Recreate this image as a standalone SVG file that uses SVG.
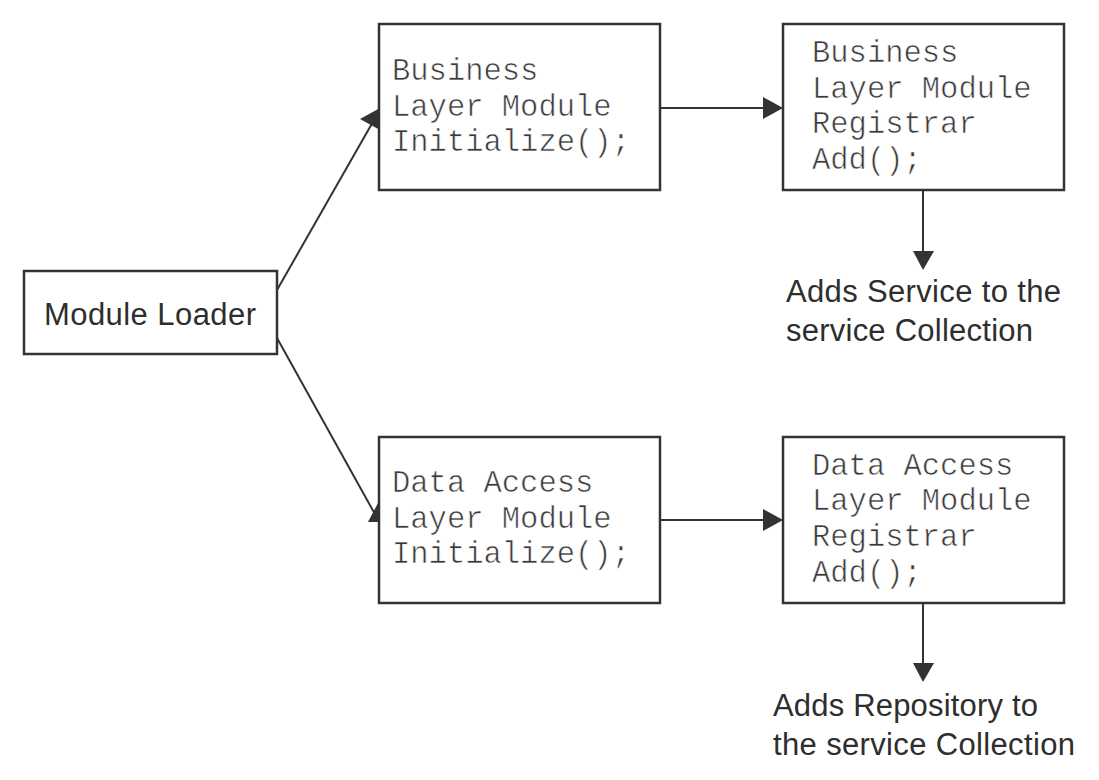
<svg xmlns="http://www.w3.org/2000/svg" width="1099" height="780" viewBox="0 0 1099 780">
<style>
.box{fill:#fff;stroke:#333;stroke-width:2.5}
.mono{font-family:"Liberation Mono","Courier New",monospace;font-size:30.5px;fill:#3a3a3a;stroke:#fff;stroke-width:0.6px}
.sans{font-family:"Liberation Sans",Arial,sans-serif;font-size:31px;fill:#2e2e2e}
.line{stroke:#333;stroke-width:2;fill:none}
.head{fill:#333}
</style>
<rect width="1099" height="780" fill="#fff"/>
<g id="connectors">
<line class="line" x1="277" y1="290" x2="374" y2="120"/>
<polygon class="head" points="380,108 360,119 380,130"/>
<line class="line" x1="277" y1="338" x2="376" y2="516"/>
<polygon class="head" points="378,503 368,522 389,522"/>
<line class="line" x1="660" y1="108" x2="765" y2="108"/>
<polygon class="head" points="763,97 783,108 763,119"/>
<line class="line" x1="660" y1="520" x2="765" y2="520"/>
<polygon class="head" points="763,509 783,520 763,531"/>
<line class="line" x1="923" y1="190" x2="923" y2="253"/>
<polygon class="head" points="913,251 934,251 923,270"/>
<line class="line" x1="923" y1="603" x2="923" y2="665"/>
<polygon class="head" points="913,663 934,663 923,682"/>
</g>
<g id="module-loader">
<rect class="box" x="24" y="271" width="253" height="83"/>
<text class="sans" x="150" y="325" text-anchor="middle" textLength="212">Module Loader</text>
</g>
<g id="bl-init">
<rect class="box" x="379" y="24" width="281" height="166"/>
<text class="mono" x="392" y="80">Business</text>
<text class="mono" x="392" y="116">Layer Module</text>
<text class="mono" x="392" y="151">Initialize();</text>
</g>
<g id="bl-registrar">
<rect class="box" x="783" y="24" width="281" height="166"/>
<text class="mono" x="812" y="62">Business</text>
<text class="mono" x="812" y="98">Layer Module</text>
<text class="mono" x="812" y="133">Registrar</text>
<text class="mono" x="812" y="169">Add();</text>
</g>
<g id="da-init">
<rect class="box" x="379" y="437" width="281" height="166"/>
<text class="mono" x="392" y="492">Data Access</text>
<text class="mono" x="392" y="528">Layer Module</text>
<text class="mono" x="392" y="563">Initialize();</text>
</g>
<g id="da-registrar">
<rect class="box" x="783" y="437" width="281" height="166"/>
<text class="mono" x="812" y="475">Data Access</text>
<text class="mono" x="812" y="510">Layer Module</text>
<text class="mono" x="812" y="546">Registrar</text>
<text class="mono" x="812" y="582">Add();</text>
</g>
<g id="service-label">
<text class="sans" x="786" y="302" textLength="275">Adds Service to the</text>
<text class="sans" x="786" y="341" textLength="247">service Collection</text>
</g>
<g id="repository-label">
<text class="sans" x="773" y="716" textLength="265">Adds Repository to</text>
<text class="sans" x="773" y="755" textLength="302">the service Collection</text>
</g>
</svg>
